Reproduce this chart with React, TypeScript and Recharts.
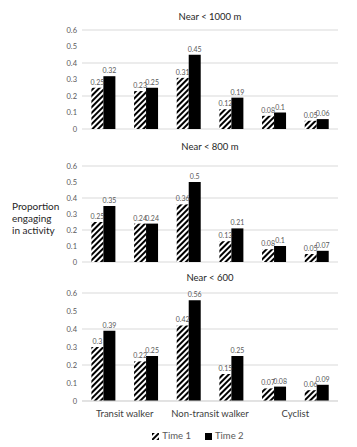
import { BarChart, Bar, XAxis, YAxis, CartesianGrid, LabelList } from "recharts";

const groups = ["Transit walker", "Non-transit walker", "Cyclist"];
const categories = ["tw-a", "tw-b", "nt-a", "nt-b", "cy-a", "cy-b"];
const yTicks = [0, 0.1, 0.2, 0.3, 0.4, 0.5, 0.6];

const near1000T1 = [0.25, 0.23, 0.31, 0.12, 0.08, 0.05];
const near1000T2 = [0.32, 0.25, 0.45, 0.19, 0.1, 0.06];
const near800T1 = [0.25, 0.24, 0.36, 0.13, 0.08, 0.05];
const near800T2 = [0.35, 0.24, 0.5, 0.21, 0.1, 0.07];
const near600T1 = [0.3, 0.22, 0.42, 0.15, 0.07, 0.06];
const near600T2 = [0.39, 0.25, 0.56, 0.25, 0.08, 0.09];

const FONT = "Lato, 'Open Sans', sans-serif";
const GRID = "#d9d9d9";
const TEXT = "#595959";
const W = 357;
const M_LEFT = 52;
const Y_W = 30;
const M_RIGHT = 19;
const PLOT_W = W - M_LEFT - Y_W - M_RIGHT;

const build = (t1: number[], t2: number[]) =>
  categories.map((c, i) => ({ cat: c, t1: t1[i], t2: t2[i] }));

function GroupTick({ x, y, index }: any) {
  if (index % 2 !== 0) return null;
  const half = PLOT_W / categories.length / 2;
  return (
    <text x={x + half} y={y + 8} textAnchor="middle" fill="#404040" fontSize={9.5} fontFamily={FONT}>
      {groups[index / 2]}
    </text>
  );
}

function Panel({ id, title, t1, t2, top, height, titleTop, showX }: any) {
  const data = build(t1, t2);
  return (
    <>
      <div
        style={{
          position: "absolute",
          top: titleTop,
          left: 82,
          width: PLOT_W,
          textAlign: "center",
          fontSize: 9.5,
          color: "#262626",
          fontFamily: FONT,
          lineHeight: "12px",
        }}
      >
        {title}
      </div>
      <div style={{ position: "absolute", top, left: 0 }}>
        <BarChart
          width={W}
          height={height}
          data={data}
          margin={{ top: 8, right: M_RIGHT, bottom: showX ? 2 : 8, left: M_LEFT }}
          barCategoryGap="22%"
          barGap={0}
        >
          <defs>
            <pattern id={`hatch-${id}`} width="4" height="4" patternUnits="userSpaceOnUse" patternTransform="rotate(45)">
              <rect width="4" height="4" fill="#fff" />
              <line x1="1" y1="0" x2="1" y2="4" stroke="#000" strokeWidth="2" />
            </pattern>
          </defs>
          <CartesianGrid vertical={false} stroke={GRID} />
          <XAxis
            dataKey="cat"
            hide={!showX}
            height={20}
            axisLine={{ stroke: GRID }}
            tickLine={false}
            interval={0}
            tick={<GroupTick />}
          />
          <YAxis
            width={Y_W}
            domain={[0, 0.6]}
            ticks={yTicks}
            axisLine={false}
            tickLine={false}
            tickSize={3}
            tick={{ fill: TEXT, fontSize: 7.5, fontFamily: FONT }}
          />
          <Bar dataKey="t1" fill={`url(#hatch-${id})`} isAnimationActive={false}>
            <LabelList dataKey="t1" position="top" offset={3} fill={TEXT} fontSize={7} fontFamily={FONT} />
          </Bar>
          <Bar dataKey="t2" fill="#000" isAnimationActive={false}>
            <LabelList dataKey="t2" position="top" offset={3} fill={TEXT} fontSize={7} fontFamily={FONT} />
          </Bar>
        </BarChart>
      </div>
    </>
  );
}

export default function App() {
  return (
    <div style={{ position: "absolute", top: 0, left: 0, width: W, height: 447, background: "#fff", fontFamily: FONT }}>
      <Panel id="a" title="Near < 1000 m" t1={near1000T1} t2={near1000T2} top={22} height={115} titleTop={11} showX={false} />
      <Panel id="b" title="Near < 800 m" t1={near800T1} t2={near800T2} top={158} height={112} titleTop={141} showX={false} />
      <Panel id="c" title="Near < 600" t1={near600T1} t2={near600T2} top={285} height={138} titleTop={272} showX={true} />

      <div
        style={{
          position: "absolute",
          top: 200,
          left: 12,
          fontSize: 10,
          lineHeight: "12px",
          color: "#262626",
          fontFamily: FONT,
        }}
      >
        Proportion
        <br />
        engaging
        <br />
        in activity
      </div>

      <div
        style={{
          position: "absolute",
          top: 430,
          left: 70,
          width: PLOT_W,
          display: "flex",
          justifyContent: "center",
          gap: 14,
          fontSize: 9.5,
          color: TEXT,
          fontFamily: FONT,
          lineHeight: "12px",
        }}
      >
        <span style={{ display: "flex", alignItems: "center", gap: 3 }}>
          <svg width={7} height={7}>
            <rect width={7} height={7} fill="url(#hatch-c)" />
          </svg>
          Time 1
        </span>
        <span style={{ display: "flex", alignItems: "center", gap: 3 }}>
          <svg width={7} height={7}>
            <rect width={7} height={7} fill="#000" />
          </svg>
          Time 2
        </span>
      </div>
    </div>
  );
}
